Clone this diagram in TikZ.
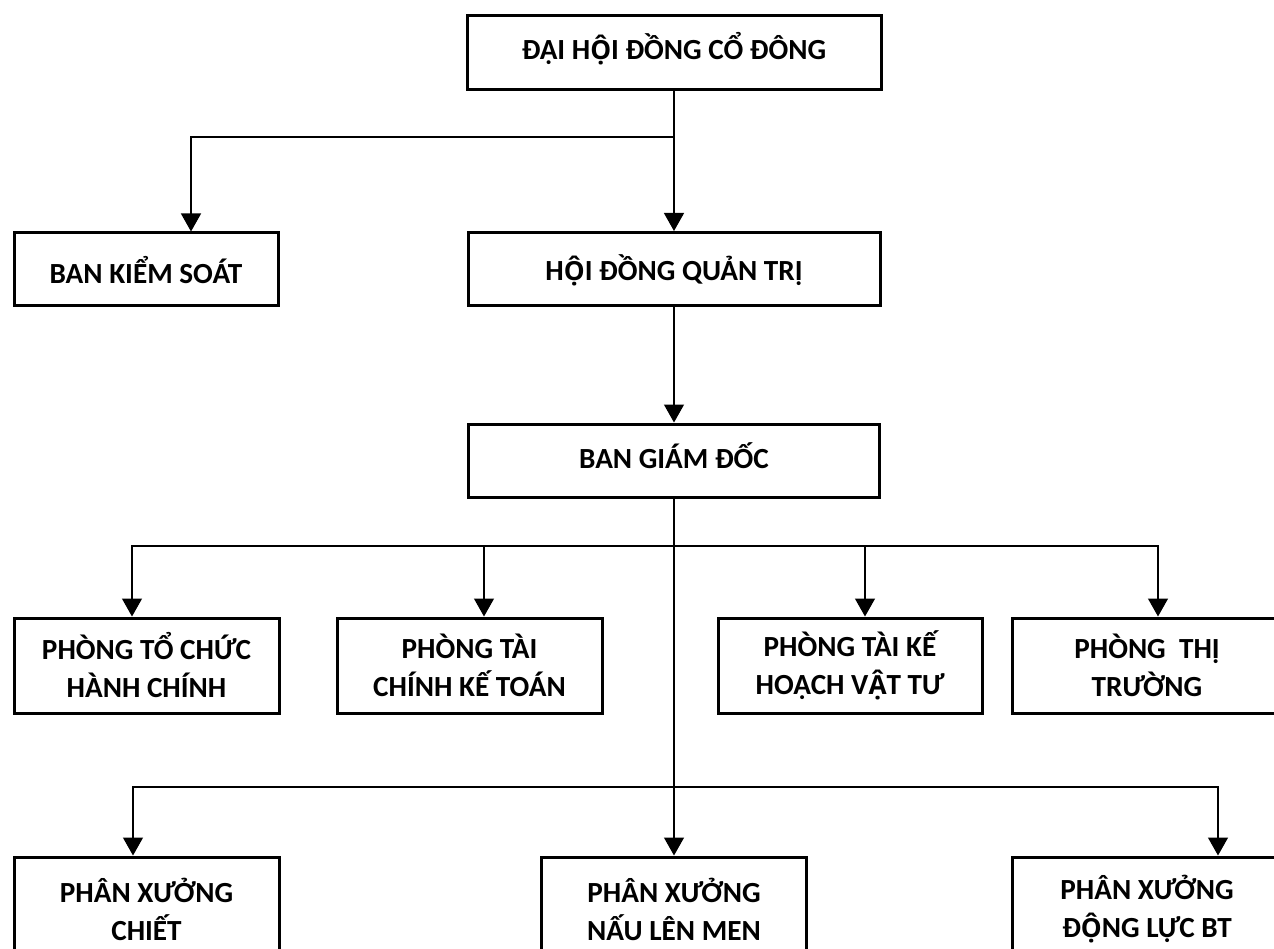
\documentclass[tikz,border=0pt]{standalone}
\usepackage{fontspec}
\setmainfont{Carlito}
\newfontfamily\vnfix{Open Sans}[Scale=MatchUppercase]
\newcommand{\OCD}{{\vnfix Ộ}}
\newcommand{\ACD}{{\vnfix Ậ}}
\usetikzlibrary{arrows.meta}
\begin{document}
\begin{tikzpicture}[x=1pt,y=-1pt,
  box/.style={draw=black, line width=3pt, rectangle, align=center, inner sep=0pt,
    font=\fontsize{29.2}{38}\selectfont\bfseries},
  onebox/.style={box, minimum height=73pt},
  twobox/.style={box, minimum width=265pt, minimum height=95pt},
  conn/.style={line width=1.3pt, draw=black},
  arr/.style={conn, -{Triangle[width=20pt,length=18pt]}}]
\useasboundingbox (0,0) rectangle (1274,949);
\clip (0,0) rectangle (1274,949);
\fill[white] (0,0) rectangle (1274,949);
% level 0-2
\node[onebox, minimum width=414pt, minimum height=74pt, text height=22.9pt, text depth=10pt] (dh) at (674,53) {ĐẠI H\OCD I ĐỒNG CỔ ĐÔNG};
\node[onebox, minimum width=264pt, text height=30pt, text depth=1.1pt] (bks) at (146,269.5) {BAN KIỂM SOÁT};
\node[onebox, minimum width=412pt, text height=27pt, text depth=4.1pt] (hdqt) at (674,269) {H\OCD I ĐỒNG QUẢN TRỊ};
\node[onebox, minimum width=411pt, text height=24pt, text depth=7.1pt] (bgd) at (674,460.5) {BAN GIÁM ĐỐC};
% departments
\node[twobox] (p1) at (146.5,665.5) {PHÒNG TỔ CHỨC\\HÀNH CHÍNH};
\node[twobox] (p2) at (469.5,665.5) {PHÒNG TÀI\\CHÍNH KẾ TOÁN};
\node[twobox, minimum width=264pt] (p3) at (850,665.5) {PHÒNG TÀI KẾ\\HOẠCH V\ACD T TƯ};
\node[twobox, minimum width=270pt] (p4) at (1147,665.5) {PHÒNG\ \ THỊ\\TRƯỜNG};
% workshops
\node[twobox, minimum height=104pt] (b1) at (146.5,909) {PHÂN XƯỞNG\\CHIẾT};
\node[twobox, minimum height=104pt] (b2) at (674,909) {PHÂN XƯỞNG\\NẤU LÊN MEN};
\node[twobox, minimum height=104pt, minimum width=270pt] (b3) at (1147,909) {PHÂN XƯỞNG\\Đ\OCD NG LỰC BT};
% connectors
\coordinate (t1) at (674,137);
\coordinate (j1) at (674,546);
\coordinate (j2) at (674,787);
\draw[arr] (dh.south) -- (hdqt.north);
\draw[arr] (t1) -| ([xshift=45pt]bks.north);
\draw[arr] (hdqt.south) -- (bgd.north);
\draw[arr] (bgd.south) -- (b2.north);
\draw[arr] (j1) -| ([xshift=-14.5pt]p1.north);
\draw[arr] (j1) -| ([xshift=14.5pt]p2.north);
\draw[arr] (j1) -| ([xshift=15pt]p3.north);
\draw[arr] (j1) -| ([xshift=11pt]p4.north);
\draw[arr] (j2) -| ([xshift=-13.5pt]b1.north);
\draw[arr] (j2) -| ([xshift=71pt]b3.north);
\end{tikzpicture}
\end{document}
